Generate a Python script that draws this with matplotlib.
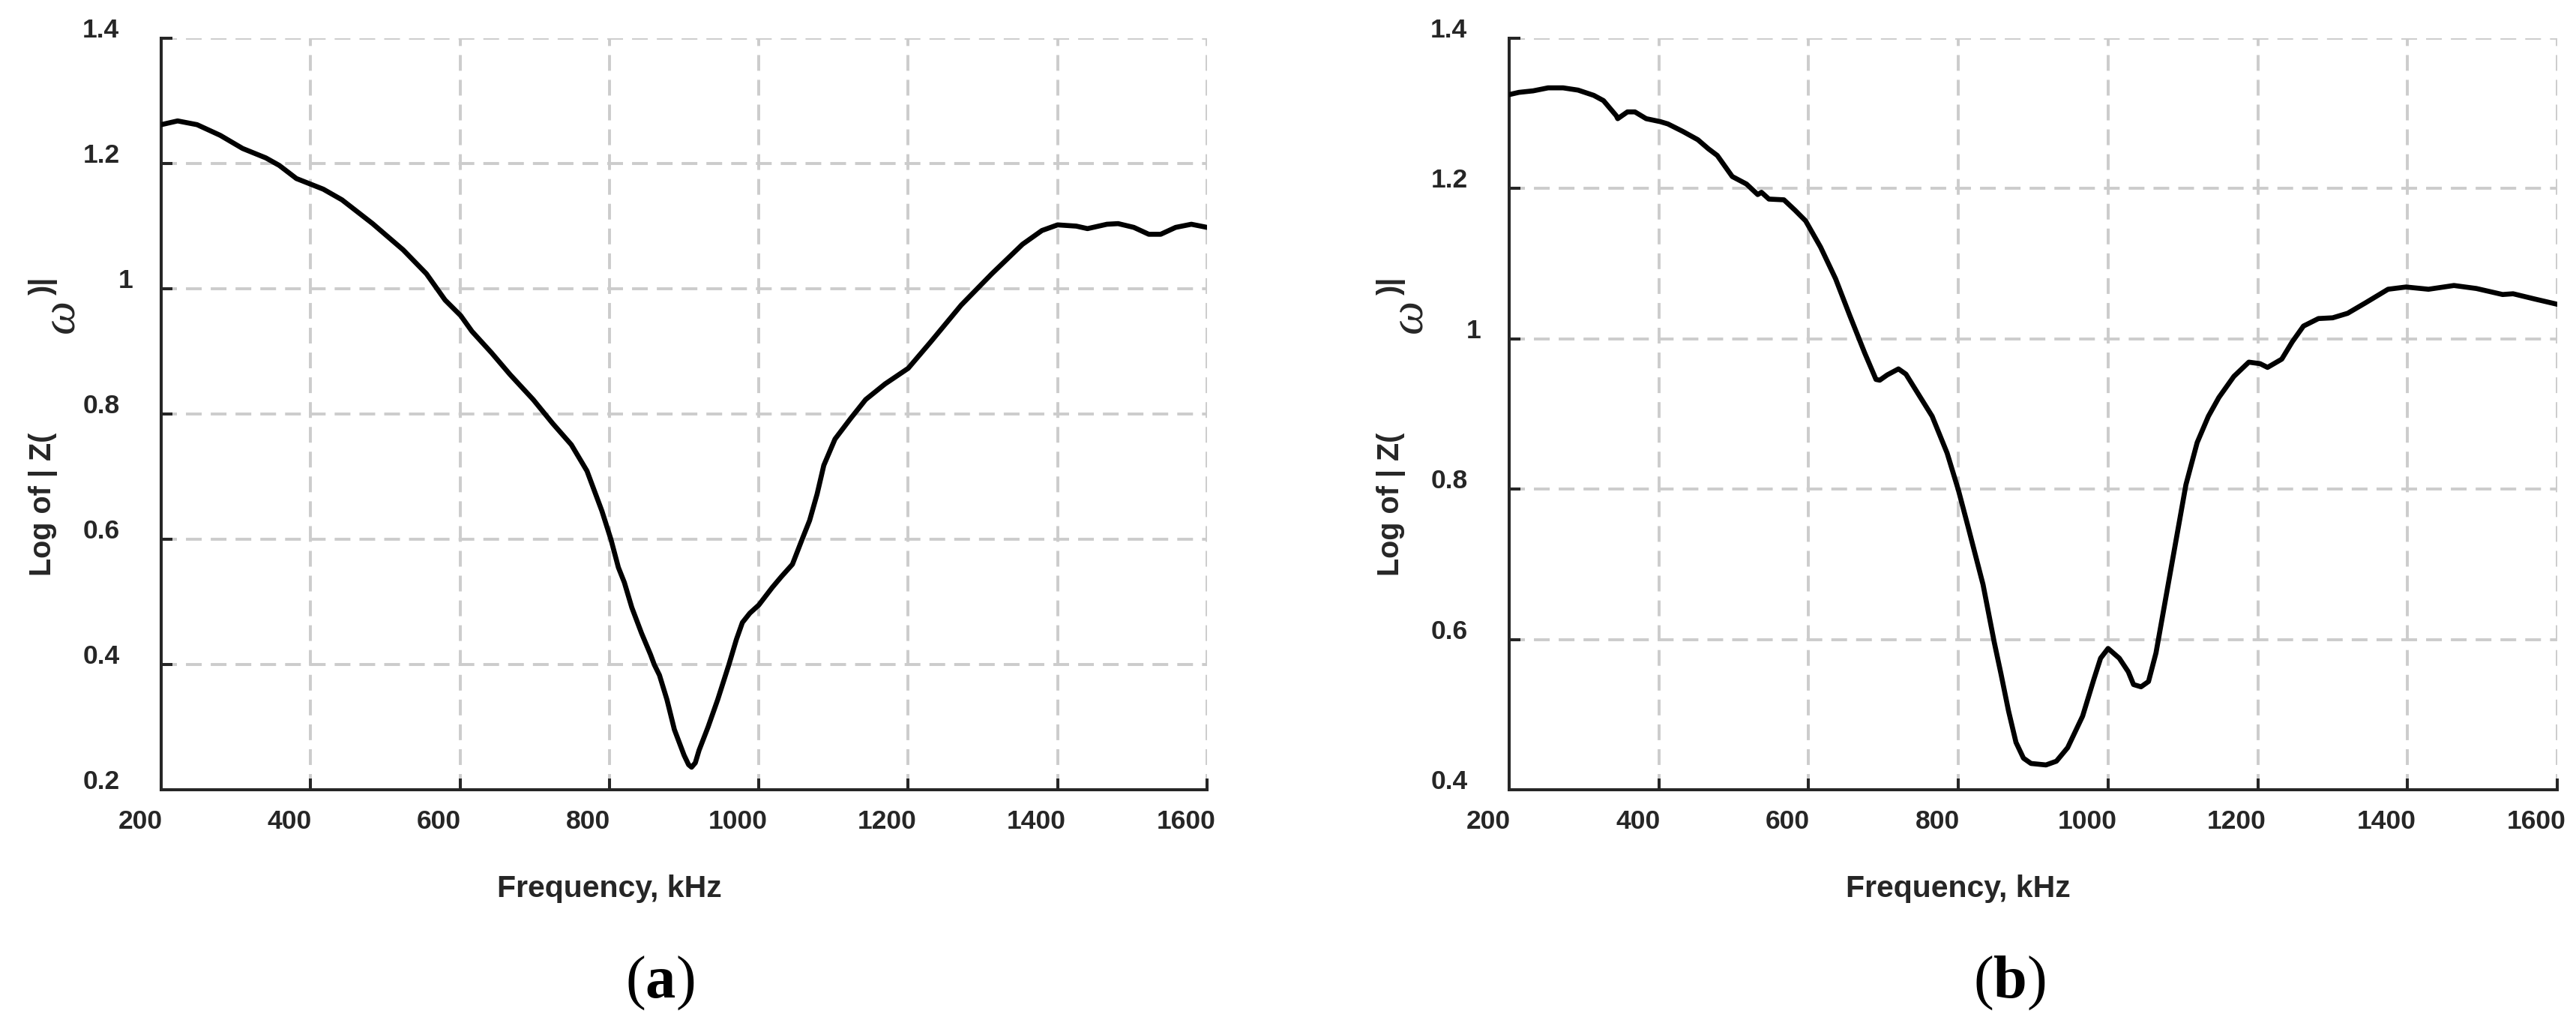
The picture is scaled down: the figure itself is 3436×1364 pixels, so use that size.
import numpy as np
import matplotlib
matplotlib.use("Agg")
import matplotlib.pyplot as plt
from matplotlib.transforms import ScaledTranslation

plt.rcParams["mathtext.fontset"] = "custom"
plt.rcParams["mathtext.bf"] = "Liberation Serif:bold"
plt.rcParams["mathtext.rm"] = "Liberation Serif"

# Curve (a): log|Z| against frequency
freq_a = [200, 222, 248, 279, 309, 340, 358, 381, 417, 442, 483, 524, 555, 580,
          601, 616, 642, 667, 698, 724, 749, 770, 790, 802, 812, 820, 830, 843,
          855, 860, 867, 877, 887, 900, 906, 910, 915, 920, 932, 945, 960, 970,
          978, 988, 1000, 1018, 1030, 1045, 1058, 1068, 1078, 1087, 1102, 1123,
          1143, 1169, 1200, 1230, 1271, 1312, 1353, 1379, 1400, 1425, 1440, 1466,
          1481, 1502, 1522, 1538, 1558, 1579, 1600]
logz_a = [1.262, 1.268, 1.262, 1.245, 1.224, 1.209, 1.197, 1.176, 1.159, 1.142,
          1.104, 1.062, 1.024, 0.982, 0.957, 0.932, 0.898, 0.863, 0.823, 0.785,
          0.751, 0.709, 0.645, 0.600, 0.555, 0.531, 0.491, 0.450, 0.416, 0.400,
          0.383, 0.344, 0.296, 0.255, 0.240, 0.236, 0.243, 0.263, 0.300, 0.344,
          0.400, 0.440, 0.467, 0.482, 0.495, 0.523, 0.540, 0.560, 0.600, 0.630,
          0.672, 0.718, 0.760, 0.793, 0.823, 0.848, 0.873, 0.915, 0.974, 1.024,
          1.071, 1.093, 1.102, 1.100, 1.096, 1.103, 1.104, 1.098, 1.087, 1.087,
          1.098, 1.103, 1.098]

# Curve (b)
freq_b = [200, 213, 232, 252, 272, 292, 313, 326, 343, 345, 358, 368, 383, 402,
          412, 432, 452, 466, 478, 498, 517, 532, 537, 547, 567, 582, 596, 616,
          636, 655, 675, 690, 695, 705, 720, 730, 745, 765, 785, 800, 813, 833,
          848, 857, 867, 877, 887, 897, 917, 931, 946, 966, 981, 990, 1000, 1015,
          1027, 1034, 1044, 1054, 1064, 1074, 1089, 1104, 1119, 1134, 1148, 1168,
          1188, 1203, 1213, 1232, 1246, 1261, 1281, 1300, 1320, 1344, 1374, 1398,
          1428, 1462, 1492, 1527, 1541, 1570, 1600]
logz_b = [1.325, 1.328, 1.330, 1.334, 1.334, 1.331, 1.324, 1.317, 1.297, 1.293,
          1.302, 1.302, 1.293, 1.289, 1.286, 1.276, 1.265, 1.253, 1.244, 1.216,
          1.206, 1.192, 1.195, 1.186, 1.185, 1.171, 1.157, 1.122, 1.080, 1.031,
          0.981, 0.946, 0.945, 0.952, 0.960, 0.953, 0.929, 0.897, 0.848, 0.799,
          0.750, 0.673, 0.596, 0.554, 0.505, 0.463, 0.442, 0.435, 0.433, 0.438,
          0.456, 0.498, 0.547, 0.575, 0.588, 0.575, 0.557, 0.540, 0.537, 0.544,
          0.582, 0.638, 0.722, 0.806, 0.862, 0.897, 0.922, 0.950, 0.969, 0.967,
          0.962, 0.973, 0.996, 1.017, 1.027, 1.028, 1.034, 1.048, 1.066, 1.069,
          1.066, 1.071, 1.067, 1.059, 1.060, 1.053, 1.046]

x_ticks = [200, 400, 600, 800, 1000, 1200, 1400, 1600]
y_ticks_a = [0.2, 0.4, 0.6, 0.8, 1.0, 1.2, 1.4]
y_ticks_b = [0.4, 0.6, 0.8, 1.0, 1.2, 1.4]
y_ticklabels_a = ["0.2", "0.4", "0.6", "0.8", "1", "1.2", "1.4"]
y_ticklabels_b = ["0.4", "0.6", "0.8", "1", "1.2", "1.4"]
panel_names = ["a", "b"]

W, H = 3437, 1364
DPI = 100
fig = plt.figure(figsize=(W / DPI, H / DPI), dpi=DPI)

SANS = "Liberation Sans"
SERIF = "Liberation Serif"
TXT = "#262626"


def px(x, y):
    # pixel position (from top-left) -> figure fraction
    return x / W, 1 - y / H


def shift(dx, dy):
    return ScaledTranslation(dx / DPI, -dy / DPI, fig.dpi_scale_trans)


panels = [
    (215, 1610, freq_a, logz_a, (0.2, 1.4), y_ticks_a, y_ticklabels_a),
    (2013, 3411, freq_b, logz_b, (0.4, 1.4), y_ticks_b, y_ticklabels_b),
]
top, bottom = 51, 1053

for i, (left, right, fx, fy, ylim, yt, ytl) in enumerate(panels):
    ax = fig.add_axes([left / W, 1 - bottom / H, (right - left) / W, (bottom - top) / H])
    ax.plot(fx, fy, color="black", lw=4.8, solid_joinstyle="round", solid_capstyle="round", zorder=3)
    ax.set_xlim(200, 1600)
    ax.set_ylim(*ylim)
    ax.set_xticks(x_ticks)
    ax.set_xticklabels([str(t) for t in x_ticks])
    ax.set_yticks(yt)
    ax.set_yticklabels(ytl)

    for s in ["top", "right"]:
        ax.spines[s].set_visible(False)
    for s in ["left", "bottom"]:
        ax.spines[s].set_linewidth(2.9)
        ax.spines[s].set_color(TXT)

    ax.set_axisbelow(True)
    ax.grid(True, color="#cccccc", lw=2.8, linestyle=(0, (5.4, 3.1)))
    ax.tick_params(direction="in", length=11, width=2.9, color=TXT, labelcolor=TXT)
    ax.tick_params(axis="x", pad=19)
    ax.tick_params(axis="y", pad=40)

    for lab in ax.get_xticklabels():
        lab.set_fontfamily(SANS)
        lab.set_fontweight("bold")
        lab.set_fontsize(25.5)
        lab.set_transform(lab.get_transform() + shift(-28, 0))
    for lab in ax.get_yticklabels():
        lab.set_fontfamily(SANS)
        lab.set_fontweight("bold")
        lab.set_fontsize(25.5)
        dx = 18 if lab.get_text() == "1" else 0
        lab.set_transform(lab.get_transform() + shift(dx, -14))

    # axis labels, placed as in the original export
    cx = (left + right) / 2
    fig.text(*px(cx - 100, 1185), "Frequency, kHz", ha="center", va="center",
             fontsize=29.5, fontweight="bold", family=SANS, color=TXT)

    lx = left - 147
    fig.text(*px(lx, 768), "Log of | Z(", rotation=90, rotation_mode="anchor",
             ha="left", va="baseline", fontsize=28.5, fontweight="bold", family=SANS, color=TXT)
    fig.text(*px(lx + 15, 421), "ω", rotation=90, rotation_mode="anchor",
             ha="center", va="center", fontsize=46, style="italic", family=SERIF, color=TXT)
    fig.text(*px(lx, 393), ")|", rotation=90, rotation_mode="anchor",
             ha="left", va="baseline", fontsize=28.5, fontweight="bold", family=SANS, color=TXT)

    # panel tag
    tag_x = cx - 32
    fig.text(*px(tag_x, 1311), "(" + r"$\mathbf{" + panel_names[i] + "}$" + ")",
             ha="center", va="center", fontsize=58, family=SERIF, color="black")

fig.savefig("out.png", dpi=DPI)
